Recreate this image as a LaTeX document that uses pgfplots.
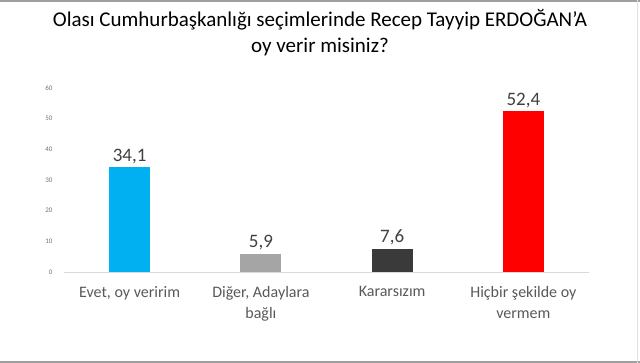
\documentclass[border=0pt]{standalone}
\usepackage{pgfplots}
\pgfplotsset{compat=1.18}
\usepackage{fontspec}
\setmainfont{Carlito}
\definecolor{cblue}{HTML}{00B0F0}
\definecolor{cgrey}{HTML}{A5A5A5}
\definecolor{cdark}{HTML}{3A3A3A}
\definecolor{cred}{HTML}{FF0000}
\definecolor{ctext}{HTML}{595959}
\definecolor{cdata}{HTML}{404040}
\begin{document}
\begin{tikzpicture}[x=1pt,y=1pt]
\useasboundingbox (0,0) rectangle (640,363);
\fill[white] (0,0) rectangle (640,363);
\draw[line width=2pt, color=black!38] (0,362) -- (640,362);
\draw[line width=1.5pt, color=black!38] (0,1) -- (640,1);
\draw[line width=0.8pt, color=black!12] (637,0) -- (637,363);
\node[anchor=center, align=center, font=\fontsize{21}{26}\selectfont, text=black] at (320,330)
  {Olası Cumhurbaşkanlığı seçimlerinde Recep Tayyip ERDOĞAN’A\\oy verir misiniz?};
\begin{axis}[
  at={(64pt,91pt)}, anchor=south west,
  scale only axis, width=525pt, height=184pt,
  xmin=-0.5, xmax=3.5, ymin=0, ymax=60,
  axis y line=none,
  axis x line*=bottom,
  axis line style={color=black!15, line width=0.8pt, -},
  xtick={0,1,2,3},
  xticklabels={{Evet, oy veririm}, {Diğer, Adaylara\\bağlı}, {Kararsızım}, {Hiçbir şekilde oy\\vermem}},
  xticklabel style={align=center, font=\fontsize{16}{21}\selectfont, text=ctext, yshift=-11pt},
  major tick length=0pt,
  ybar, bar width=41pt, bar shift=0pt,
  nodes near coords,
  nodes near coords style={font=\fontsize{19}{22}\selectfont, text=cdata, /pgf/number format/.cd, use comma, fixed, fixed zerofill, precision=1, assume math mode=true},
  clip=false,
]
\addplot[draw=none, fill=cblue] coordinates {(0,34.1)};
\addplot[draw=none, fill=cgrey] coordinates {(1,5.9)};
\addplot[draw=none, fill=cdark] coordinates {(2,7.6)};
\addplot[draw=none, fill=cred] coordinates {(3,52.4)};
\end{axis}
\begin{axis}[
  at={(64pt,91pt)}, anchor=south west,
  scale only axis, width=525pt, height=184pt,
  xmin=-0.5, xmax=3.5, ymin=0, ymax=60,
  axis x line=none,
  axis y line*=left,
  y axis line style={draw=none},
  ytick={0,10,...,60},
  major tick length=0pt,
  yticklabel style={font=\fontsize{7}{8}\selectfont, text=black!55, xshift=-8pt},
  /pgf/number format/assume math mode=true,
]
\addplot[draw=none] coordinates {(0,0)};
\end{axis}
\end{tikzpicture}
\end{document}
